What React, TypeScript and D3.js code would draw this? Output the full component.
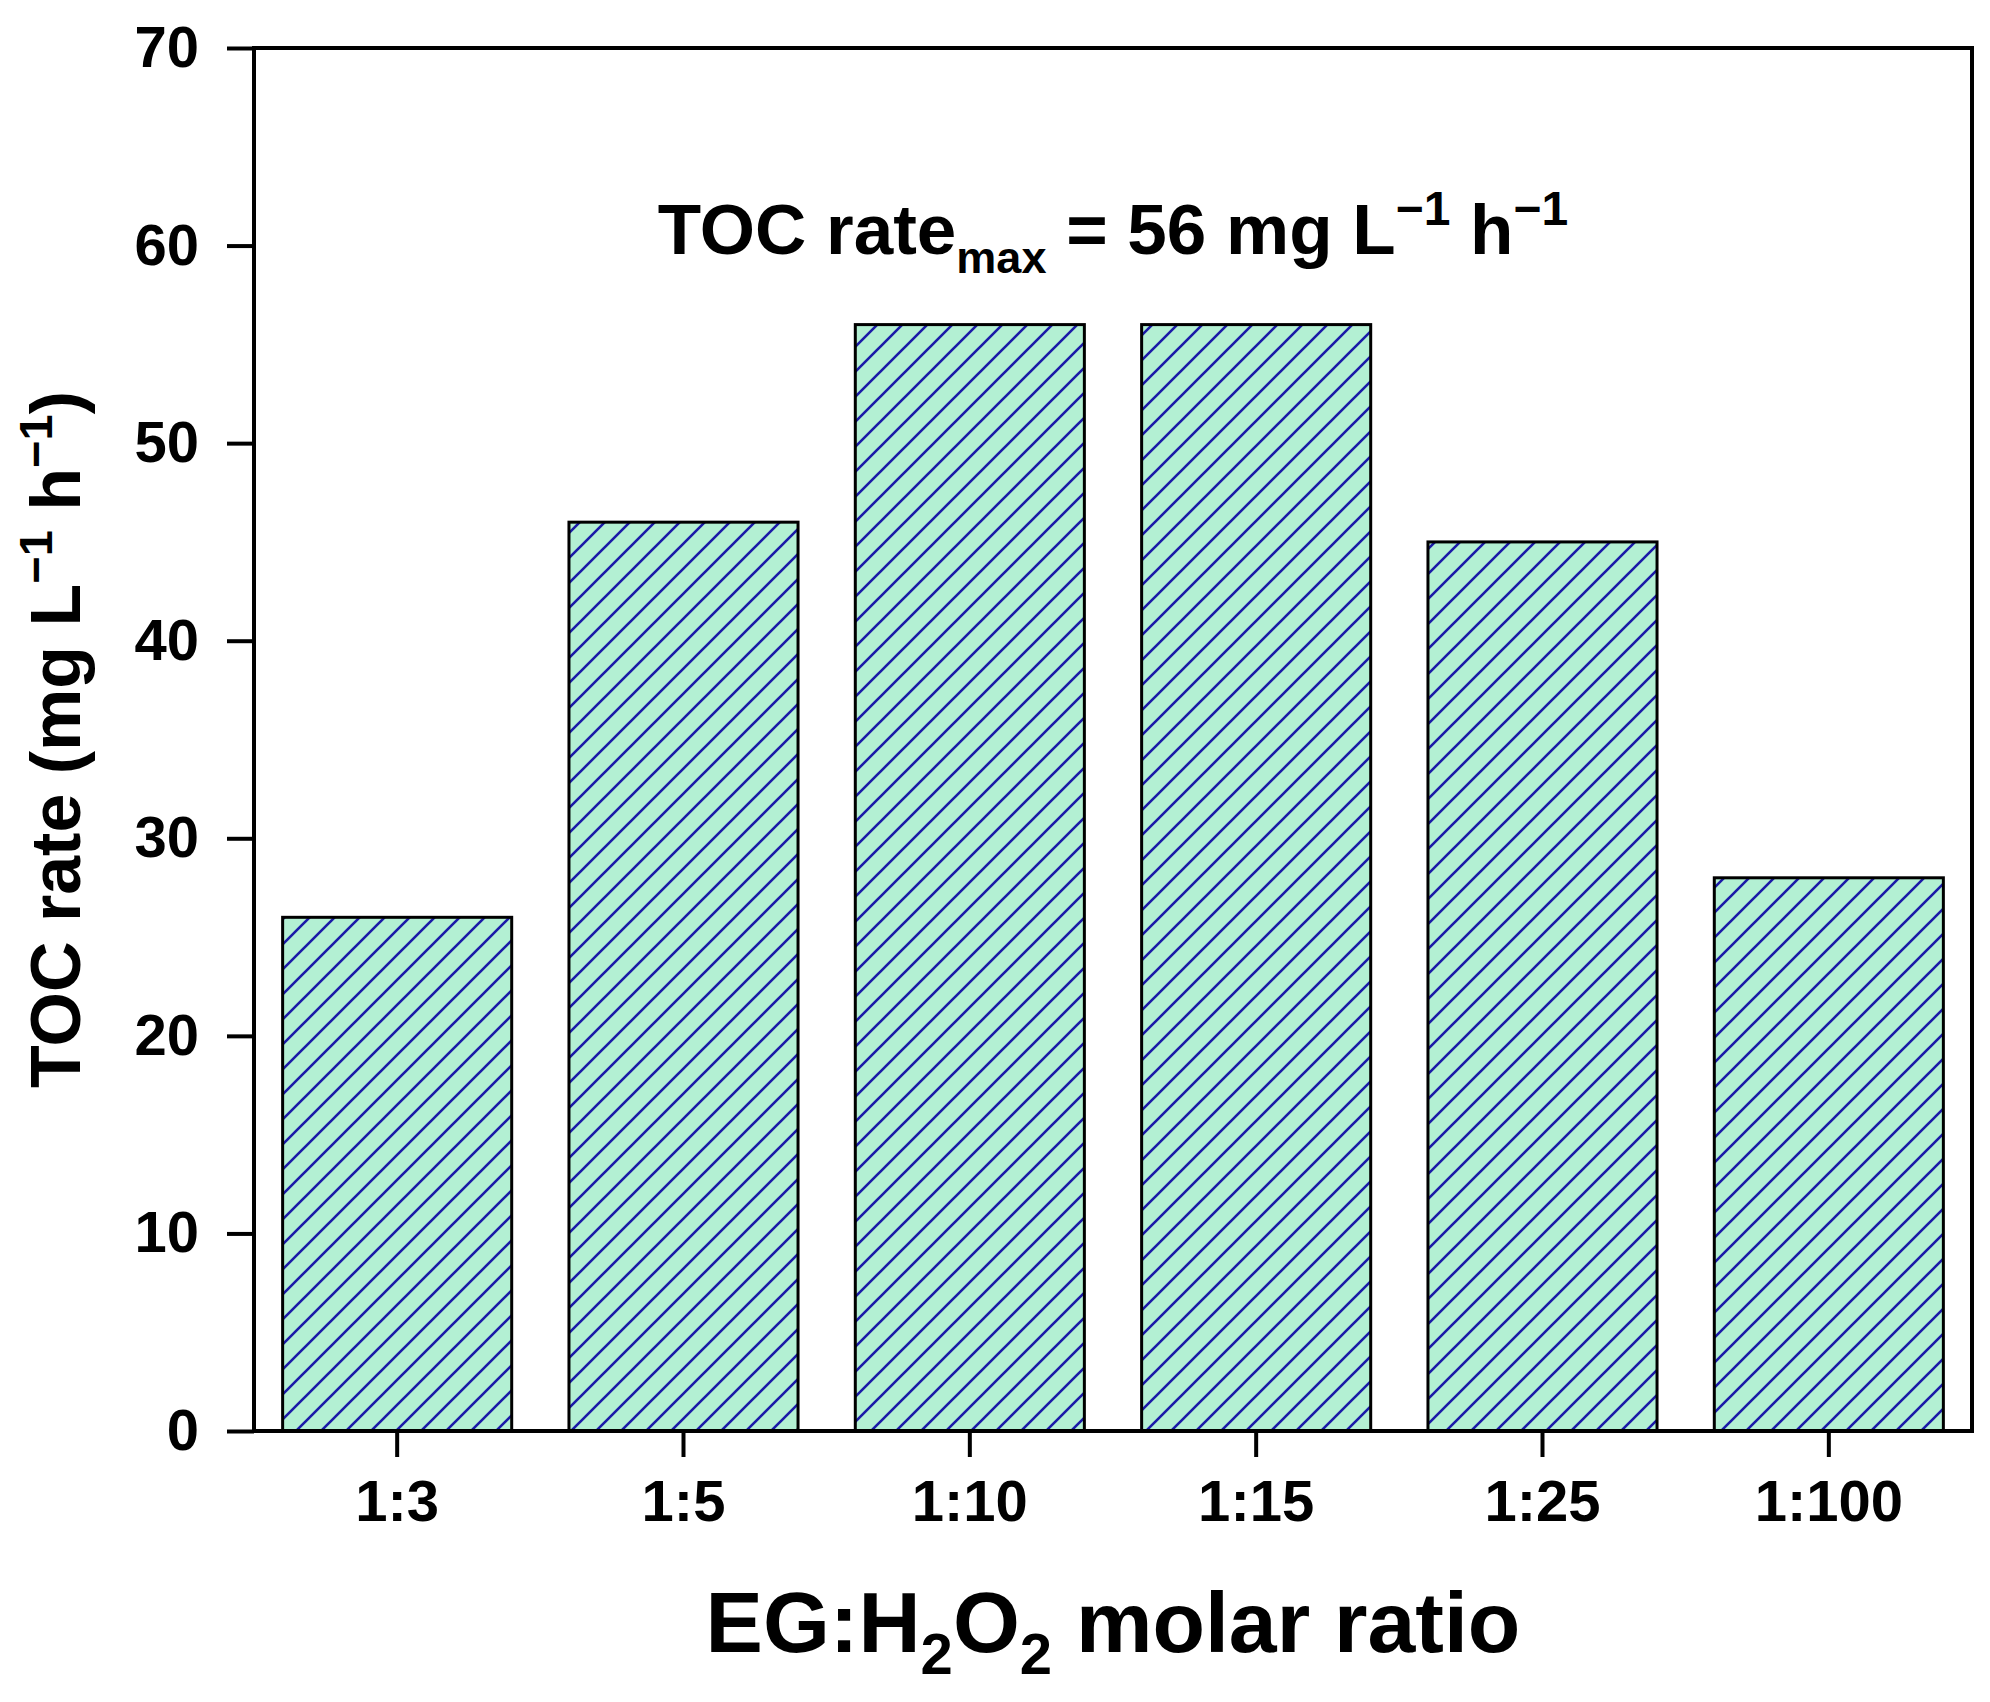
import React, { useEffect, useRef } from 'react';
import * as d3 from 'd3';

const RATIOS = ['1:3', '1:5', '1:10', '1:15', '1:25', '1:100'];
const TOC_RATE = [26, 46, 56, 56, 45, 28];
const Y_TICKS = [0, 10, 20, 30, 40, 50, 60, 70];

const WIDTH = 1990;
const HEIGHT = 1702;
const FONT = '"Liberation Sans", Arial, sans-serif';
const FILL = '#b3f0d3';
const HATCH = '#1a1aa8';

const App: React.FC = () => {
  const svgRef = useRef<SVGSVGElement>(null);

  useEffect(() => {
    document.body.style.margin = '0';
    if (!svgRef.current) return;

    const svg = d3.select(svgRef.current);
    svg.selectAll('*').remove();

    const margin = { top: 48, right: 18, bottom: 271, left: 254 };
    const innerWidth = WIDTH - margin.left - margin.right;
    const innerHeight = HEIGHT - margin.top - margin.bottom;

    // diagonal hatch
    const defs = svg.append('defs');
    const pat = defs
      .append('pattern')
      .attr('id', 'hatch')
      .attr('patternUnits', 'userSpaceOnUse')
      .attr('width', 25)
      .attr('height', 25);
    pat.append('rect').attr('width', 25).attr('height', 25).attr('fill', FILL);
    pat
      .append('path')
      .attr('d', 'M0,25 L25,0 M-6.25,6.25 L6.25,-6.25 M18.75,31.25 L31.25,18.75')
      .attr('stroke', HATCH)
      .attr('stroke-width', 2.6);

    const g = svg
      .append('g')
      .attr('transform', `translate(${margin.left},${margin.top})`);

    const x = d3
      .scaleBand<string>()
      .domain(RATIOS)
      .range([0, innerWidth])
      .paddingInner(0.2)
      .paddingOuter(0.1);

    const y = d3.scaleLinear().domain([0, 70]).range([innerHeight, 0]);

    g.selectAll('rect.bar')
      .data(TOC_RATE)
      .enter()
      .append('rect')
      .attr('class', 'bar')
      .attr('x', (_, i) => x(RATIOS[i]) as number)
      .attr('y', (d) => y(d))
      .attr('width', x.bandwidth())
      .attr('height', (d) => innerHeight - y(d))
      .attr('fill', 'url(#hatch)')
      .attr('stroke', '#000')
      .attr('stroke-width', 3);

    // frame
    g.append('rect')
      .attr('x', 0)
      .attr('y', 0)
      .attr('width', innerWidth)
      .attr('height', innerHeight)
      .attr('fill', 'none')
      .attr('stroke', '#000')
      .attr('stroke-width', 4);

    const xAxis = g
      .append('g')
      .attr('transform', `translate(0,${innerHeight})`)
      .call(d3.axisBottom(x).tickSize(26).tickPadding(23));

    const yAxis = g
      .append('g')
      .call(
        d3
          .axisLeft(y)
          .tickValues(Y_TICKS)
          .tickFormat(d3.format('d'))
          .tickSize(27)
          .tickPadding(28)
      );

    [xAxis, yAxis].forEach((ax) => {
      ax.select('.domain').remove();
      ax.selectAll('line').attr('stroke', '#000').attr('stroke-width', 4);
      ax.selectAll('text')
        .attr('fill', '#000')
        .attr('font-family', FONT)
        .attr('font-weight', 'bold')
        .attr('font-size', 58);
    });

    // x title
    const xt = g
      .append('text')
      .attr('x', innerWidth / 2)
      .attr('y', 1652 - margin.top)
      .attr('text-anchor', 'middle')
      .attr('font-family', FONT)
      .attr('font-weight', 'bold')
      .attr('font-size', 86)
      .attr('fill', '#000');
    xt.append('tspan').text('EG:H');
    xt.append('tspan').attr('font-size', 58).attr('dy', 22).text('2');
    xt.append('tspan').attr('dy', -22).text('O');
    xt.append('tspan').attr('font-size', 58).attr('dy', 22).text('2');
    xt.append('tspan').attr('dy', -22).text(' molar ratio');

    // y title
    const yt = g
      .append('text')
      .attr('transform', `translate(${80 - margin.left},${innerHeight / 2}) rotate(-90)`)
      .attr('text-anchor', 'middle')
      .attr('font-family', FONT)
      .attr('font-weight', 'bold')
      .attr('font-size', 70)
      .attr('fill', '#000');
    yt.append('tspan').text('TOC rate (mg L');
    yt.append('tspan').attr('font-size', 47).attr('dy', -28).text('\u22121');
    yt.append('tspan').attr('dy', 28).text(' h');
    yt.append('tspan').attr('font-size', 47).attr('dy', -28).text('\u22121');
    yt.append('tspan').attr('dy', 28).text(')');

    // annotation
    const an = g
      .append('text')
      .attr('x', innerWidth / 2)
      .attr('y', 254 - margin.top)
      .attr('text-anchor', 'middle')
      .attr('font-family', FONT)
      .attr('font-weight', 'bold')
      .attr('font-size', 71)
      .attr('fill', '#000');
    an.append('tspan').text('TOC rate');
    an.append('tspan').attr('font-size', 45).attr('dy', 19).text('max');
    an.append('tspan').attr('dy', -19).text(' = 56 mg L');
    an.append('tspan').attr('font-size', 48).attr('dy', -29).text('\u22121');
    an.append('tspan').attr('dy', 29).text(' h');
    an.append('tspan').attr('font-size', 48).attr('dy', -29).text('\u22121');
  }, []);

  return <svg ref={svgRef} width={WIDTH} height={HEIGHT} style={{ display: 'block', background: '#fff' }} />;
};

export default App;
